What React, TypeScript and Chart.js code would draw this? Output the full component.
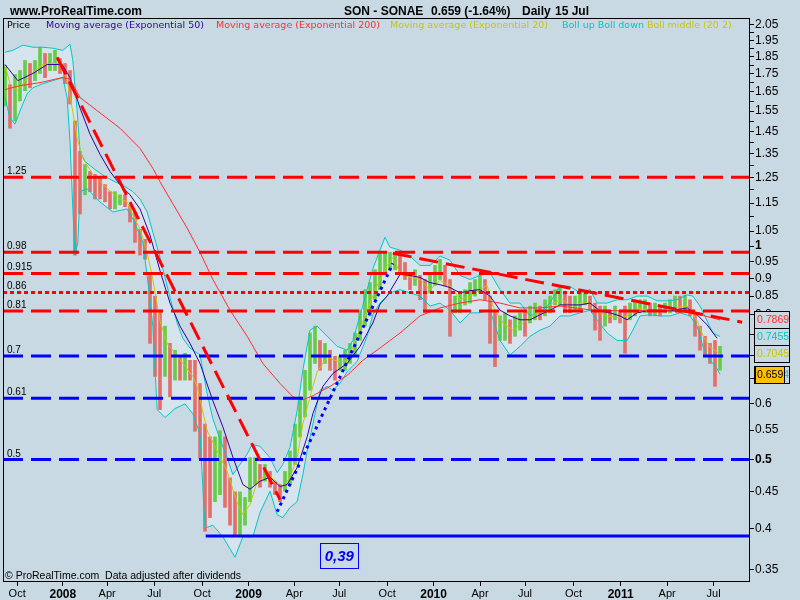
import React, { useEffect, useRef } from 'react';
import { Chart, registerables } from 'chart.js';

Chart.register(...registerables);

// ---------------- data ----------------
const SITE = 'www.ProRealTime.com';
const TICKER = 'SON - SONAE';
const LAST_CLOSE = 0.659;
const CHANGE_PCT = -1.64;
const PERIOD = 'Daily';
const LAST_DATE = '15 Jul';
const NOTE = '\u00A9 ProRealTime.com  Data adjusted after dividends';

// x unit: trading sessions counted from early September 2007
const X_TICKS = [17, 81, 143, 209, 276, 341, 405, 468, 535, 600, 665, 728, 796, 862, 927, 992];
const X_TICK_LABELS = ['Oct', '2008', 'Apr', 'Jul', 'Oct', '2009', 'Apr', 'Jul', 'Oct', '2010', 'Apr', 'Jul', 'Oct', '2011', 'Apr', 'Jul'];
const YEAR_LABELS = ['2008', '2009', '2010', '2011'];

const Y_TICKS_LABELED = [2.05, 1.95, 1.85, 1.75, 1.65, 1.55, 1.45, 1.35, 1.25, 1.15, 1.05, 1, 0.95, 0.9, 0.85, 0.8, 0.75, 0.7, 0.65, 0.6, 0.55, 0.5, 0.45, 0.4, 0.35];
const Y_TICKS_MINOR = [2.0, 1.9, 1.8, 1.7, 1.6, 1.5, 1.4, 1.3, 1.2, 1.1];
const Y_TICKS_BOLD = [1, 0.5];

// price bars (one bar every 7 sessions): high / low
const BAR_STEP = 7;
const BAR_HIGH = [
  1.797, 1.689, 1.745, 1.768, 1.827, 1.809, 1.827, 1.907, 1.869, 1.869,
  1.888, 1.839, 1.809, 1.768, 1.501, 1.360, 1.303, 1.274, 1.262, 1.245,
  1.221, 1.193, 1.193, 1.181, 1.181, 1.143, 1.117, 1.056, 1.022, 0.909,
  0.850, 0.812, 0.771, 0.729, 0.713, 0.699, 0.706, 0.690, 0.690, 0.640,
  0.561, 0.538, 0.538, 0.549, 0.538, 0.471, 0.450, 0.450, 0.442, 0.503,
  0.503, 0.492, 0.492, 0.481, 0.465, 0.461, 0.481, 0.514, 0.561, 0.613,
  0.668, 0.754, 0.771, 0.736, 0.729, 0.713, 0.699, 0.699, 0.713, 0.729,
  0.754, 0.812, 0.868, 0.888, 0.926, 0.980, 0.980, 0.980, 0.980, 0.971,
  0.948, 0.917, 0.926, 0.909, 0.897, 0.917, 0.939, 0.958, 0.939, 0.897,
  0.850, 0.859, 0.868, 0.888, 0.897, 0.909, 0.897, 0.850, 0.812, 0.797,
  0.805, 0.787, 0.797, 0.805, 0.812, 0.823, 0.831, 0.823, 0.840, 0.850,
  0.868, 0.880, 0.859, 0.850, 0.850, 0.859, 0.859, 0.850, 0.831, 0.823,
  0.823, 0.812, 0.823, 0.812, 0.823, 0.831, 0.840, 0.840, 0.840, 0.831,
  0.831, 0.823, 0.831, 0.840, 0.850, 0.850, 0.853, 0.840, 0.805, 0.771,
  0.746, 0.729, 0.736, 0.722,
];
const BAR_LOW = [
  1.576, 1.466, 1.501, 1.602, 1.656, 1.672, 1.711, 1.751, 1.728, 1.768,
  1.768, 1.751, 1.694, 1.586, 0.971, 1.110, 1.181, 1.193, 1.165, 1.165,
  1.154, 1.128, 1.128, 1.143, 1.136, 1.081, 1.012, 0.971, 0.958, 0.729,
  0.655, 0.588, 0.655, 0.613, 0.647, 0.647, 0.647, 0.647, 0.548, 0.502,
  0.396, 0.414, 0.436, 0.446, 0.428, 0.404, 0.391, 0.391, 0.404, 0.436,
  0.461, 0.457, 0.466, 0.457, 0.446, 0.436, 0.451, 0.461, 0.492, 0.538,
  0.574, 0.626, 0.683, 0.668, 0.683, 0.668, 0.647, 0.668, 0.668, 0.683,
  0.699, 0.736, 0.771, 0.797, 0.840, 0.868, 0.917, 0.926, 0.926, 0.917,
  0.897, 0.868, 0.880, 0.840, 0.805, 0.859, 0.880, 0.897, 0.880, 0.746,
  0.805, 0.805, 0.826, 0.831, 0.850, 0.859, 0.840, 0.729, 0.676, 0.736,
  0.736, 0.729, 0.746, 0.761, 0.746, 0.779, 0.787, 0.787, 0.797, 0.805,
  0.826, 0.826, 0.805, 0.805, 0.812, 0.812, 0.826, 0.812, 0.761, 0.736,
  0.771, 0.779, 0.787, 0.779, 0.706, 0.787, 0.797, 0.805, 0.805, 0.797,
  0.797, 0.797, 0.805, 0.805, 0.812, 0.805, 0.812, 0.797, 0.746, 0.713,
  0.699, 0.683, 0.634, 0.668,
];

const EMA200_X = [0, 21, 49, 80, 91, 105, 133, 161, 189, 207, 217, 235, 255, 273, 291, 315, 339, 361, 385, 403, 417, 431, 455, 479, 501, 525, 553, 581, 609, 637, 665, 693, 721, 749, 777, 823, 871, 917, 963, 1001];
const EMA200_Y = [1.662, 1.683, 1.700, 1.728, 1.720, 1.620, 1.541, 1.466, 1.373, 1.287, 1.232, 1.147, 1.060, 0.980, 0.897, 0.812, 0.746, 0.683, 0.640, 0.613, 0.607, 0.615, 0.634, 0.657, 0.690, 0.718, 0.754, 0.797, 0.818, 0.831, 0.840, 0.831, 0.818, 0.818, 0.823, 0.812, 0.810, 0.812, 0.805, 0.7869];

const EMA50_X = [0, 18, 39, 59, 80, 91, 105, 119, 133, 147, 161, 175, 189, 203, 217, 231, 245, 259, 273, 291, 305, 319, 333, 343, 357, 371, 385, 395, 409, 423, 431, 445, 459, 479, 497, 515, 525, 535, 553, 567, 581, 595, 609, 623, 637, 651, 665, 679, 693, 707, 721, 735, 749, 763, 777, 805, 819, 833, 847, 861, 871, 885, 903, 931, 955, 969, 983, 997];
const EMA50_Y = [1.803, 1.711, 1.751, 1.803, 1.803, 1.728, 1.566, 1.438, 1.347, 1.274, 1.221, 1.181, 1.128, 1.036, 0.923, 0.831, 0.771, 0.729, 0.683, 0.605, 0.556, 0.504, 0.461, 0.454, 0.466, 0.472, 0.458, 0.461, 0.487, 0.538, 0.580, 0.634, 0.661, 0.683, 0.722, 0.779, 0.828, 0.850, 0.912, 0.909, 0.903, 0.888, 0.882, 0.874, 0.859, 0.865, 0.868, 0.850, 0.812, 0.797, 0.787, 0.787, 0.800, 0.812, 0.826, 0.826, 0.831, 0.810, 0.805, 0.797, 0.787, 0.805, 0.812, 0.810, 0.818, 0.800, 0.774, 0.741];

const EMA20_X = [0, 7, 17, 25, 39, 53, 67, 80, 87, 94, 101, 109, 123, 143, 161, 171, 179, 189, 199, 207, 217, 227, 235, 249, 263, 269, 283, 297, 311, 325, 333, 343, 353, 367, 381, 389, 399, 409, 417, 427, 437, 451, 465, 479, 493, 507, 521, 535, 543, 553, 567, 581, 595, 609, 623, 637, 651, 665, 675, 683, 697, 711, 725, 739, 753, 767, 781, 795, 805, 819, 829, 843, 857, 871, 885, 899, 917, 935, 955, 969, 977, 987, 997, 1001];
const EMA20_Y = [1.803, 1.694, 1.656, 1.694, 1.757, 1.803, 1.809, 1.809, 1.711, 1.566, 1.419, 1.329, 1.262, 1.205, 1.165, 1.154, 1.106, 1.056, 0.980, 0.897, 0.784, 0.729, 0.713, 0.683, 0.655, 0.634, 0.549, 0.514, 0.481, 0.435, 0.418, 0.432, 0.465, 0.476, 0.465, 0.457, 0.472, 0.503, 0.561, 0.613, 0.665, 0.697, 0.688, 0.688, 0.746, 0.812, 0.880, 0.939, 0.964, 0.917, 0.903, 0.897, 0.868, 0.894, 0.880, 0.840, 0.850, 0.868, 0.880, 0.823, 0.779, 0.761, 0.779, 0.797, 0.810, 0.831, 0.840, 0.818, 0.831, 0.831, 0.810, 0.797, 0.792, 0.797, 0.818, 0.812, 0.810, 0.818, 0.823, 0.784, 0.748, 0.720, 0.709, 0.7045];

const BOLL_UP_X = [0, 11, 25, 39, 53, 67, 81, 91, 95, 101, 105, 112, 126, 140, 154, 168, 179, 189, 199, 207, 217, 224, 231, 241, 249, 259, 273, 283, 291, 301, 311, 319, 329, 339, 346, 357, 371, 381, 389, 399, 409, 417, 427, 437, 451, 465, 479, 487, 497, 507, 515, 525, 532, 539, 553, 567, 581, 595, 609, 623, 637, 651, 665, 679, 693, 707, 721, 735, 749, 763, 777, 791, 805, 819, 829, 843, 857, 871, 885, 899, 913, 927, 941, 955, 963, 973, 983, 991, 1001];
const BOLL_UP_Y = [1.876, 1.888, 1.920, 1.907, 1.907, 1.901, 1.888, 1.926, 1.827, 1.551, 1.360, 1.316, 1.282, 1.253, 1.232, 1.213, 1.193, 1.165, 1.117, 1.046, 0.964, 0.903, 0.845, 0.779, 0.741, 0.718, 0.702, 0.619, 0.571, 0.534, 0.503, 0.476, 0.492, 0.509, 0.525, 0.522, 0.503, 0.479, 0.492, 0.520, 0.586, 0.668, 0.761, 0.771, 0.746, 0.722, 0.713, 0.736, 0.797, 0.868, 0.929, 0.987, 1.029, 0.996, 0.987, 0.968, 0.939, 0.939, 0.968, 0.955, 0.909, 0.897, 0.909, 0.917, 0.868, 0.831, 0.831, 0.797, 0.805, 0.831, 0.880, 0.877, 0.859, 0.868, 0.831, 0.831, 0.840, 0.840, 0.850, 0.850, 0.837, 0.837, 0.840, 0.853, 0.850, 0.823, 0.784, 0.754, 0.7455];

const BOLL_DN_X = [0, 7, 14, 21, 31, 39, 53, 67, 81, 87, 91, 95, 98, 102, 105, 115, 133, 151, 171, 179, 193, 199, 207, 213, 224, 238, 252, 263, 273, 280, 291, 305, 315, 322, 333, 347, 357, 371, 381, 389, 399, 409, 417, 423, 431, 441, 451, 459, 469, 479, 493, 507, 515, 525, 539, 553, 567, 581, 595, 609, 623, 637, 651, 665, 679, 693, 707, 721, 735, 749, 763, 777, 791, 805, 819, 829, 843, 857, 871, 879, 889, 903, 917, 931, 945, 959, 969, 977, 987, 994, 1001];
const BOLL_DN_Y = [1.618, 1.516, 1.486, 1.551, 1.640, 1.672, 1.694, 1.711, 1.728, 1.618, 1.405, 1.128, 0.971, 1.012, 1.193, 1.205, 1.154, 1.117, 1.128, 1.092, 1.012, 0.909, 0.771, 0.588, 0.573, 0.590, 0.599, 0.580, 0.543, 0.400, 0.404, 0.389, 0.374, 0.364, 0.389, 0.389, 0.421, 0.451, 0.418, 0.414, 0.428, 0.436, 0.476, 0.514, 0.561, 0.626, 0.634, 0.626, 0.640, 0.665, 0.688, 0.746, 0.800, 0.831, 0.859, 0.868, 0.859, 0.850, 0.823, 0.831, 0.812, 0.779, 0.805, 0.805, 0.812, 0.736, 0.702, 0.722, 0.746, 0.761, 0.771, 0.797, 0.797, 0.805, 0.812, 0.787, 0.754, 0.736, 0.736, 0.761, 0.797, 0.800, 0.797, 0.797, 0.805, 0.797, 0.771, 0.722, 0.690, 0.679, 0.6594];

// drawn levels and trend lines
const RED_LEVELS = [1.25, 0.98, 0.915, 0.81];
const RED_DOTTED_LEVELS = [0.86];
const BLUE_LEVELS = [0.7, 0.61, 0.5];
const SUPPORT_LEVEL = 0.39;
const SUPPORT_FROM = 281;
const SUPPORT_TAG = '0,39';
const SUPPORT_TAG_AT = [468, 0.366];
const TREND_DOWN_2008 = [[73, 1.845], [385, 0.439]];
const TREND_UP_2009 = [[381, 0.422], [543, 0.945]];
const TREND_DOWN_2010 = [[543, 0.977], [1032, 0.781]];

// ---------------- styles ----------------
const BG = 'rgb(200,217,227)';
const BAND_FILL = 'rgb(214,229,237)';
const C_UP = 'rgb(102,204,72)';
const C_DOWN = 'rgb(228,110,106)';
const C_EMA50 = 'rgb(51,0,160)';
const C_EMA200 = 'rgb(255,48,48)';
const C_EMA20 = 'rgb(200,200,0)';
const C_BOLL = 'rgb(0,200,200)';
const C_RED = '#ff0000';
const C_BLUE = '#0000ff';
const SANS = '"Liberation Sans", Arial, sans-serif';
const VERD = '"DejaVu Sans", Verdana, sans-serif';

const X_MIN = -2.8;
const X_MAX = 1041.6;
const Y_MIN = 0.337;
const Y_MAX = 2.097;

const pts = (xs: number[], ys: number[]) => xs.map((x, i) => ({ x, y: ys[i] }));
const fmtTick = (v: number) => String(parseFloat(v.toFixed(2)));
const near = (a: number, b: number) => Math.abs(a - b) < 1e-9;

export default function App() {
  const ref = useRef<HTMLCanvasElement>(null);

  useEffect(() => {
    const canvas = ref.current;
    if (!canvas) return;

    const barData = BAR_LOW.map((lo, i) => ({ x: i * BAR_STEP, y: [lo, BAR_HIGH[i]] }));
    const barColors = BAR_LOW.map((lo, i) => {
      const mid = (lo + BAR_HIGH[i]) / 2;
      const prev = i > 0 ? (BAR_LOW[i - 1] + BAR_HIGH[i - 1]) / 2 : mid;
      return mid >= prev ? C_UP : C_DOWN;
    });

    const levelSet = (v: number, color: string, dash: number[], from = X_MIN) => ({
      type: 'line' as const,
      data: [{ x: from, y: v }, { x: X_MAX, y: v }],
      borderColor: color,
      borderWidth: 3,
      borderDash: dash,
      pointRadius: 0,
      order: 1,
    });
    const trendSet = (seg: number[][], color: string, dash: number[]) => ({
      type: 'line' as const,
      data: seg.map(([x, y]) => ({ x, y })),
      borderColor: color,
      borderWidth: 3,
      borderDash: dash,
      pointRadius: 0,
      order: 0,
    });
    const lineSet = (xs: number[], ys: number[], color: string) => ({
      type: 'line' as const,
      data: pts(xs, ys),
      borderColor: color,
      borderWidth: 1,
      pointRadius: 0,
      tension: 0,
      order: 5,
    });

    const datasets: any[] = [
      ...RED_LEVELS.map((v) => levelSet(v, C_RED, [20, 8])),
      ...RED_DOTTED_LEVELS.map((v) => levelSet(v, C_RED, [4, 3])),
      ...BLUE_LEVELS.map((v) => levelSet(v, C_BLUE, [20, 8])),
      levelSet(SUPPORT_LEVEL, C_BLUE, [], SUPPORT_FROM),
      trendSet(TREND_DOWN_2008, C_RED, [19, 8]),
      trendSet(TREND_UP_2009, C_BLUE, [3, 4]),
      trendSet(TREND_DOWN_2010, C_RED, [19, 8]),
      lineSet(EMA200_X, EMA200_Y, C_EMA200),
      lineSet(EMA50_X, EMA50_Y, C_EMA50),
      lineSet(EMA20_X, EMA20_Y, C_EMA20),
      lineSet(BOLL_UP_X, BOLL_UP_Y, C_BOLL),
      lineSet(BOLL_DN_X, BOLL_DN_Y, C_BOLL),
      {
        type: 'bar',
        data: barData,
        backgroundColor: barColors,
        borderWidth: 0,
        barThickness: 3,
        grouped: false,
        order: 10,
      },
    ];

    const bgPlugin = {
      id: 'bg',
      beforeDraw(chart: any) {
        const { ctx, width, height } = chart;
        ctx.save();
        ctx.fillStyle = BG;
        ctx.fillRect(0, 0, width, height);
        ctx.restore();
      },
    };

    const bandPlugin = {
      id: 'band',
      beforeDatasetsDraw(chart: any) {
        const { ctx, chartArea, scales } = chart;
        const xs = scales.x;
        const ys = scales.y;
        ctx.save();
        ctx.beginPath();
        ctx.rect(chartArea.left, chartArea.top, chartArea.right - chartArea.left, chartArea.bottom - chartArea.top);
        ctx.clip();
        ctx.beginPath();
        BOLL_UP_X.forEach((x, i) => {
          const px = xs.getPixelForValue(x);
          const py = ys.getPixelForValue(BOLL_UP_Y[i]);
          if (i === 0) ctx.moveTo(px, py);
          else ctx.lineTo(px, py);
        });
        for (let i = BOLL_DN_X.length - 1; i >= 0; i--) {
          ctx.lineTo(xs.getPixelForValue(BOLL_DN_X[i]), ys.getPixelForValue(BOLL_DN_Y[i]));
        }
        ctx.closePath();
        ctx.fillStyle = BAND_FILL;
        ctx.fill();
        ctx.restore();
      },
    };

    const overlayPlugin = {
      id: 'overlay',
      afterDraw(chart: any) {
        const { ctx, chartArea, scales } = chart;
        const xs = scales.x;
        const ys = scales.y;
        const { left, top, right, bottom } = chartArea;
        ctx.save();

        // frame (left + top)
        ctx.strokeStyle = '#000';
        ctx.lineWidth = 1;
        ctx.beginPath();
        ctx.moveTo(left + 0.5, top);
        ctx.lineTo(left + 0.5, bottom);
        ctx.moveTo(left, top + 0.5);
        ctx.lineTo(right, top + 0.5);
        ctx.stroke();

        // header
        ctx.fillStyle = '#000';
        ctx.textBaseline = 'alphabetic';
        ctx.textAlign = 'left';
        ctx.font = `bold 12px ${SANS}`;
        ctx.fillText(SITE, 10, 15);
        ctx.fillText(TICKER, 344, 15);
        ctx.fillText(`${LAST_CLOSE} (${CHANGE_PCT.toFixed(2)}%)`, 431, 15);
        ctx.fillText(PERIOD, 522, 15);
        ctx.fillText(LAST_DATE, 555, 15);

        // legend row
        ctx.font = `9.5px ${VERD}`;
        ctx.fillStyle = '#000';
        ctx.fillText('Price', 7, 28);
        ctx.fillStyle = C_EMA50;
        ctx.fillText('Moving average (Exponential 50)', 46, 28);
        ctx.fillStyle = C_EMA200;
        ctx.fillText('Moving average (Exponential 200)', 216, 28);
        ctx.fillStyle = C_EMA20;
        ctx.fillText('Moving average (Exponential 20)', 390, 28);
        ctx.fillStyle = C_BOLL;
        const bollTxt = 'Boll up Boll down';
        ctx.fillText(bollTxt, 562, 28);
        const bw = ctx.measureText(bollTxt + ' ').width;
        ctx.fillStyle = C_EMA20;
        ctx.fillText('Boll middle (20 2)', 562 + bw, 28);

        // level labels
        ctx.font = `10px ${SANS}`;
        ctx.fillStyle = '#000';
        [...RED_LEVELS, ...RED_DOTTED_LEVELS, ...BLUE_LEVELS].forEach((v) => {
          ctx.fillText(String(v), left + 4, ys.getPixelForValue(v) - 3);
        });

        // support tag
        const tx = xs.getPixelForValue(SUPPORT_TAG_AT[0]);
        const ty = ys.getPixelForValue(SUPPORT_TAG_AT[1]);
        ctx.strokeStyle = C_BLUE;
        ctx.lineWidth = 1;
        ctx.strokeRect(Math.round(tx - 19) + 0.5, Math.round(ty - 12.5) + 0.5, 38, 25);
        ctx.fillStyle = C_BLUE;
        ctx.font = `italic bold 15px ${SANS}`;
        ctx.textAlign = 'center';
        ctx.textBaseline = 'middle';
        ctx.fillText(SUPPORT_TAG, tx, ty + 1);

        // bottom note
        ctx.textAlign = 'left';
        ctx.textBaseline = 'alphabetic';
        ctx.fillStyle = '#000';
        ctx.font = `10.5px ${SANS}`;
        ctx.fillText(NOTE, left + 2, bottom - 2);

        // last-value boxes on the right axis
        const boxL = right + 5;
        const items = [
          { v: EMA200_Y[EMA200_Y.length - 1], c: C_EMA200 },
          { v: BOLL_UP_Y[BOLL_UP_Y.length - 1], c: C_BOLL },
          { v: EMA20_Y[EMA20_Y.length - 1], c: C_EMA20 },
          { v: BOLL_DN_Y[BOLL_DN_Y.length - 1], c: C_BOLL },
        ].sort((a, b) => b.v - a.v);
        let prevBottom = -Infinity;
        ctx.font = `10.5px ${SANS}`;
        ctx.textBaseline = 'middle';
        items.forEach((it) => {
          const cy = ys.getPixelForValue(it.v);
          const t = Math.round(Math.max(cy - 8.5, prevBottom));
          ctx.fillStyle = BG;
          ctx.fillRect(boxL, t, 35, 17);
          ctx.strokeStyle = '#000';
          ctx.strokeRect(boxL + 0.5, t + 0.5, 35, 17);
          ctx.fillStyle = it.c;
          ctx.fillText(it.v.toFixed(4), boxL + 3, t + 9);
          prevBottom = t + 17;
        });
        const pcy = ys.getPixelForValue(LAST_CLOSE);
        const pt = Math.round(pcy - 8.5);
        ctx.fillStyle = 'rgb(255,192,0)';
        ctx.fillRect(boxL + 1, pt, 29, 17);
        ctx.strokeStyle = '#000';
        ctx.strokeRect(boxL + 1.5, pt + 0.5, 29, 17);
        ctx.fillStyle = '#000';
        ctx.fillText(String(LAST_CLOSE), boxL + 3, pt + 9);

        ctx.restore();
      },
    };

    const chart = new Chart(canvas, {
      type: 'bar',
      data: { datasets },
      options: {
        animation: false,
        responsive: false,
        devicePixelRatio: 1,
        events: [],
        layout: { padding: { left: 3, top: 18, right: 0, bottom: 0 } },
        plugins: { legend: { display: false }, tooltip: { enabled: false }, title: { display: false } },
        scales: {
          x: {
            type: 'linear',
            min: X_MIN,
            max: X_MAX,
            bounds: 'data',
            offset: false,
            grid: { display: true, drawOnChartArea: false, drawTicks: true, tickLength: 5, color: '#000', offset: false },
            border: { display: true, color: '#000', width: 1 },
            afterBuildTicks: (scale: any) => {
              scale.ticks = X_TICKS.map((v) => ({ value: v }));
            },
            afterFit: (scale: any) => {
              scale.height = 19;
            },
            ticks: {
              autoSkip: false,
              maxRotation: 0,
              minRotation: 0,
              padding: 1,
              color: '#000',
              callback: (v: any) => {
                const i = X_TICKS.indexOf(Number(v));
                return i >= 0 ? X_TICK_LABELS[i] : '';
              },
              font: (c: any) => {
                const i = c.tick ? X_TICKS.indexOf(c.tick.value) : -1;
                const lbl = i >= 0 ? X_TICK_LABELS[i] : '';
                return YEAR_LABELS.includes(lbl)
                  ? { family: SANS, size: 12, weight: 'bold' }
                  : { family: SANS, size: 11, weight: 'normal' };
              },
            },
          },
          y: {
            type: 'logarithmic',
            position: 'right',
            min: Y_MIN,
            max: Y_MAX,
            bounds: 'data',
            grid: { display: true, drawOnChartArea: false, drawTicks: true, tickLength: 5, color: '#000' },
            border: { display: true, color: '#000', width: 1 },
            afterBuildTicks: (scale: any) => {
              scale.ticks = [...Y_TICKS_LABELED, ...Y_TICKS_MINOR]
                .sort((a, b) => a - b)
                .map((v) => ({ value: v }));
            },
            afterFit: (scale: any) => {
              scale.width = 51;
            },
            ticks: {
              autoSkip: false,
              padding: 1,
              color: '#000',
              callback: (v: any) => {
                const n = Number(v);
                return Y_TICKS_LABELED.some((t) => near(t, n)) ? fmtTick(n) : '';
              },
              font: (c: any) => {
                const val = c.tick ? c.tick.value : 0;
                return Y_TICKS_BOLD.some((t) => near(t, val))
                  ? { family: SANS, size: 12, weight: 'bold' }
                  : { family: SANS, size: 12, weight: 'normal' };
              },
            },
          },
        },
      } as any,
      plugins: [bgPlugin, bandPlugin, overlayPlugin],
    });

    return () => chart.destroy();
  }, []);

  return (
    <div style={{ position: 'fixed', left: 0, top: 0, width: 800, height: 600 }}>
      <canvas ref={ref} width={800} height={600} style={{ display: 'block', width: 800, height: 600 }} />
    </div>
  );
}
